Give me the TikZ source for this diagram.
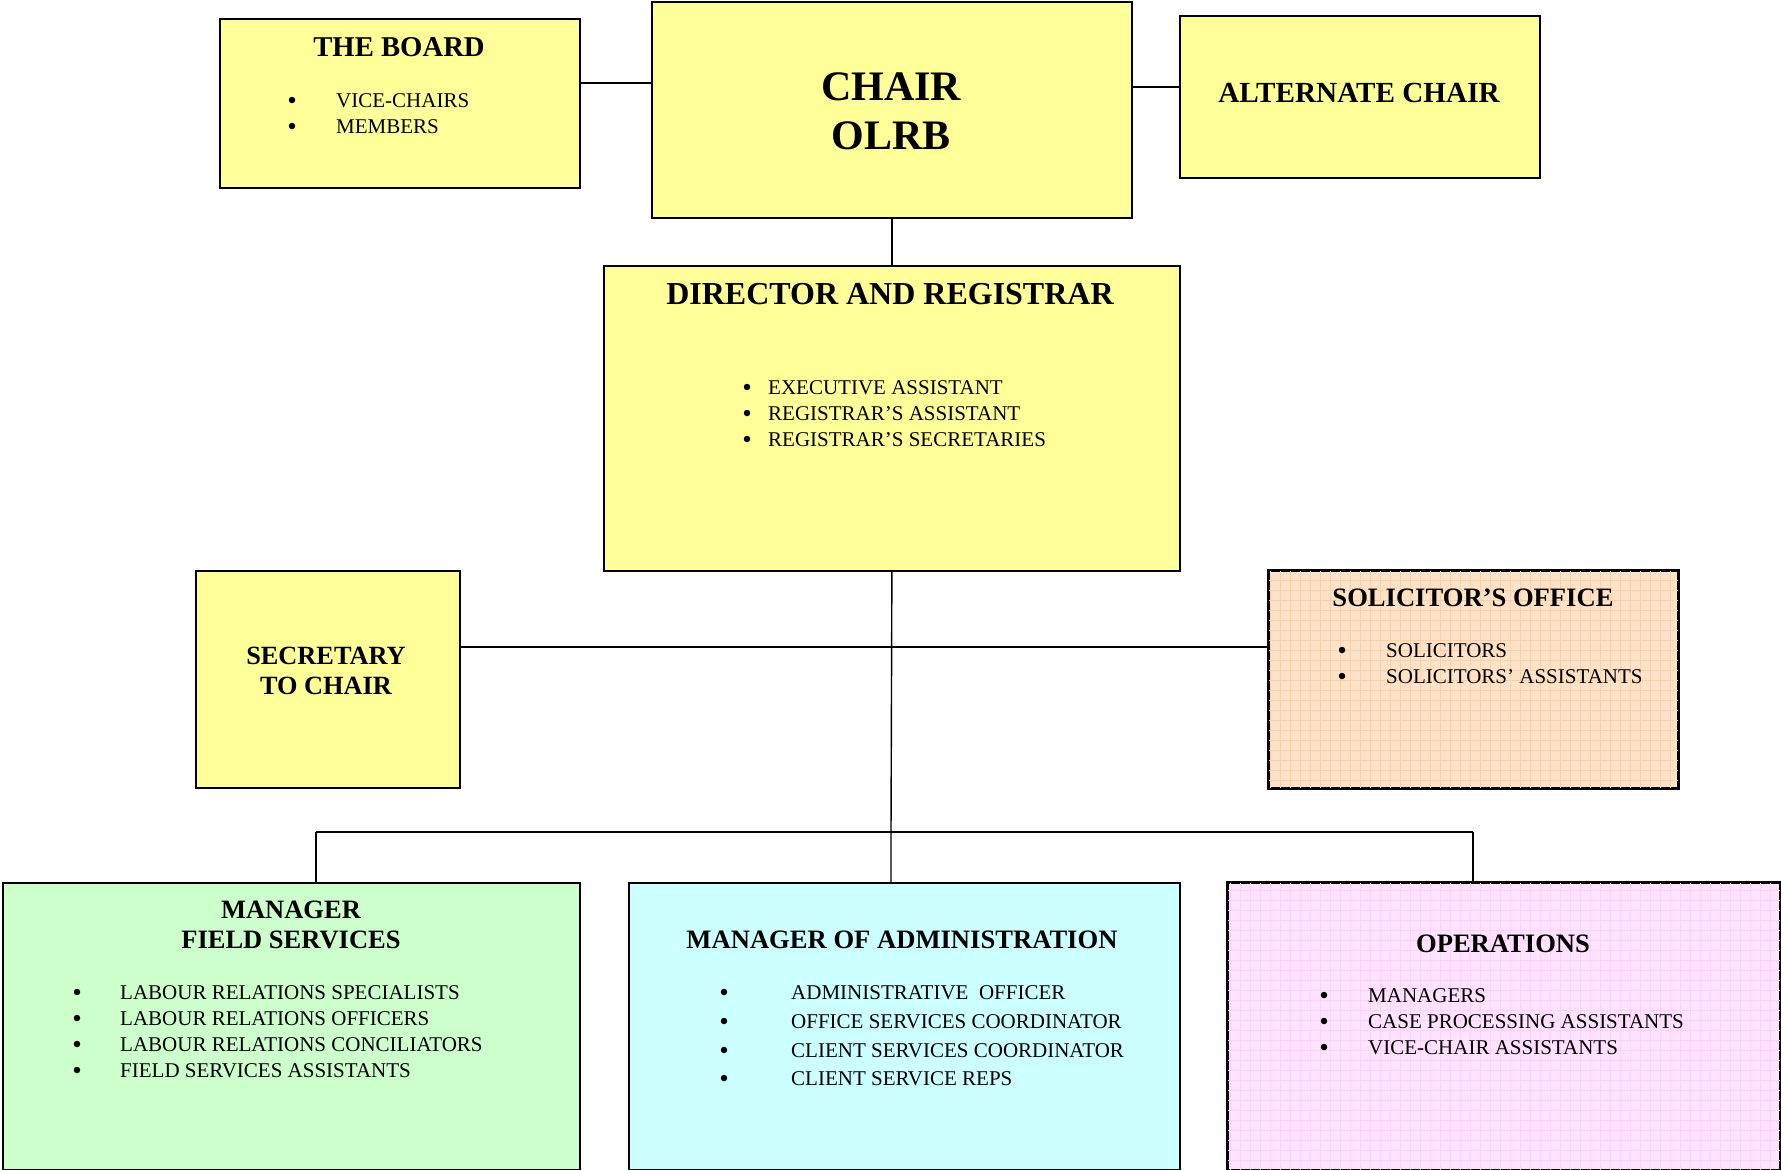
\documentclass[tikz,border=0pt]{standalone}
\usepackage{fontspec}
\setmainfont{Liberation Serif}
\definecolor{boxyellow}{HTML}{FFFF99}
\definecolor{boxgreen}{HTML}{CCFFCC}
\definecolor{boxcyan}{HTML}{CCFFFF}
\definecolor{peachbg}{HTML}{FFE3C9}
\definecolor{peachline}{HTML}{FFD0A4}
\definecolor{pinkbg}{HTML}{FFE3FF}
\definecolor{pinkline}{HTML}{FFCFFF}
\tikzset{
  orgbox/.style={draw=black, line width=1.8pt, rectangle, inner sep=0pt, anchor=north west},
  conn/.style={draw=black, line width=1.4pt},
  head/.style={font=\fontsize{#1}{#1}\selectfont\bfseries, anchor=base, inner sep=0pt},
  item/.style={font=\fontsize{21}{21}\selectfont, anchor=base west, inner sep=0pt},
  dot/.style={circle, fill=black, inner sep=0pt, minimum size=6.5pt, yshift=7pt},
}
\begin{document}
\begin{tikzpicture}[x=1pt,y=-1pt]
\useasboundingbox (0,0) rectangle (1781,1170);

% ---------- boxes ----------
\node[orgbox, fill=boxyellow, minimum width=360pt, minimum height=169pt] (board) at (219,18) {};
\node[orgbox, fill=boxyellow, minimum width=480pt, minimum height=216pt] (chair) at (651,1) {};
\node[orgbox, fill=boxyellow, minimum width=360pt, minimum height=162pt] (alt) at (1179,15) {};
\node[orgbox, fill=boxyellow, minimum width=576pt, minimum height=305pt] (dir) at (603,265) {};
\node[orgbox, fill=boxyellow, minimum width=264pt, minimum height=217pt] (sec) at (195,570) {};
\node[orgbox, fill=peachbg, minimum width=409pt, minimum height=217pt] (sol) at (1268,570) {};
\node[orgbox, fill=boxgreen, minimum width=577pt, minimum height=287pt] (field) at (2,882) {};
\node[orgbox, fill=boxcyan, minimum width=551pt, minimum height=287pt] (admin) at (628,882) {};
\node[orgbox, fill=pinkbg, minimum width=552pt, minimum height=287pt] (ops) at (1227,882) {};

% grid patterns
\begin{scope}
  \clip (sol.north west) rectangle (sol.south east);
  \draw[peachline, line width=0.7pt, step=10pt] (1265,565) grid (1690,800);
\end{scope}
\begin{scope}
  \clip (ops.north west) rectangle (ops.south east);
  \draw[pinkline, line width=0.7pt, step=10pt] (1225,875) grid (1790,1180);
\end{scope}
\draw[line width=1.8pt] (sol.north west) rectangle (sol.south east);
\draw[line width=1.8pt] (ops.north west) rectangle (ops.south east);

% ---------- connectors ----------
\coordinate (yb) at (0,83);
\coordinate (ya) at (0,87);
\coordinate (ys) at (0,647);
\coordinate (jm) at (891,832);
\coordinate (jl) at (316,832);
\coordinate (jr) at (1473,832);
\draw[conn] (board.east |- yb) -- (chair.west |- yb);
\draw[conn] (chair.east |- ya) -- (alt.west |- ya);
\draw[conn] (chair.south) -- (dir.north);
\draw[conn] (dir.south) -- (jm) -- (jm |- admin.north);
\draw[conn] (sec.east |- ys) -- (sol.west |- ys);
\draw[conn, line width=1.8pt] (jl) -- (jr);
\draw[conn] (jl) -- (jl |- field.north);
\draw[conn] (jr) -- (jr |- ops.north);

% ---------- texts ----------
% The Board
\node[head=28.7] (tboard) at (399,56) {THE BOARD};
\node[dot] (b1) at (292,107) {};
\node[item] (t1) at (336,107) {VICE-CHAIRS};
\node[dot] (b2) at (292,133) {};
\node[item] (t2) at (336,133) {MEMBERS};

% Chair
\node[head=42] (tchair1) at (891,100) {CHAIR};
\node[head=42] (tchair2) at (891,149) {OLRB};

% Alternate chair
\node[head=29.2] (talt) at (1359,102) {ALTERNATE CHAIR};

% Director
\node[head=32] (tdir) at (890,304) {DIRECTOR AND REGISTRAR};
\node[dot] (d1) at (747,394) {};
\node[item] (dt1) at (768,394) {EXECUTIVE ASSISTANT};
\node[dot] (d2) at (747,420) {};
\node[item] (dt2) at (768,420) {REGISTRAR’S ASSISTANT};
\node[dot] (d3) at (747,446) {};
\node[item] (dt3) at (768,446) {REGISTRAR’S SECRETARIES};

% Secretary
\node[head=26.3] (tsec1) at (326,664) {SECRETARY};
\node[head=26.3] (tsec2) at (326,694) {TO CHAIR};

% Solicitor
\node[head=26.6] (tsol) at (1473,606) {SOLICITOR’S OFFICE};
\node[dot] (s1) at (1342,657) {};
\node[item] (st1) at (1386,657) {SOLICITORS};
\node[dot] (s2) at (1342,683) {};
\node[item] (st2) at (1386,683) {SOLICITORS’ ASSISTANTS};

% Field services
\node[head=26.5] (tf1) at (291,918) {MANAGER};
\node[head=26.5] (tf2) at (291,948) {FIELD SERVICES};
\node[dot] (f1) at (77,999) {};
\node[item] (ft1) at (120,999) {LABOUR RELATIONS SPECIALISTS};
\node[dot] (f2) at (77,1025) {};
\node[item] (ft2) at (120,1025) {LABOUR RELATIONS OFFICERS};
\node[dot] (f3) at (77,1051) {};
\node[item] (ft3) at (120,1051) {LABOUR RELATIONS CONCILIATORS};
\node[dot] (f4) at (77,1077) {};
\node[item] (ft4) at (120,1077) {FIELD SERVICES ASSISTANTS};

% Administration
\node[head=26.6] (tadm) at (902,948) {MANAGER OF ADMINISTRATION};
\node[dot] (a1) at (724,999) {};
\node[item] (at1) at (791,999) {ADMINISTRATIVE\ \ OFFICER};
\node[dot] (a2) at (724,1028) {};
\node[item] (at2) at (791,1028) {OFFICE SERVICES COORDINATOR};
\node[dot] (a3) at (724,1057) {};
\node[item] (at3) at (791,1057) {CLIENT SERVICES COORDINATOR};
\node[dot] (a4) at (724,1085) {};
\node[item] (at4) at (791,1085) {CLIENT SERVICE REPS};

% Operations
\node[head=26.6] (tops) at (1503,952) {OPERATIONS};
\node[dot] (o1) at (1324,1002) {};
\node[item] (ot1) at (1368,1002) {MANAGERS};
\node[dot] (o2) at (1324,1028) {};
\node[item] (ot2) at (1368,1028) {CASE PROCESSING ASSISTANTS};
\node[dot] (o3) at (1324,1054) {};
\node[item] (ot3) at (1368,1054) {VICE-CHAIR ASSISTANTS};
\end{tikzpicture}
\end{document}
